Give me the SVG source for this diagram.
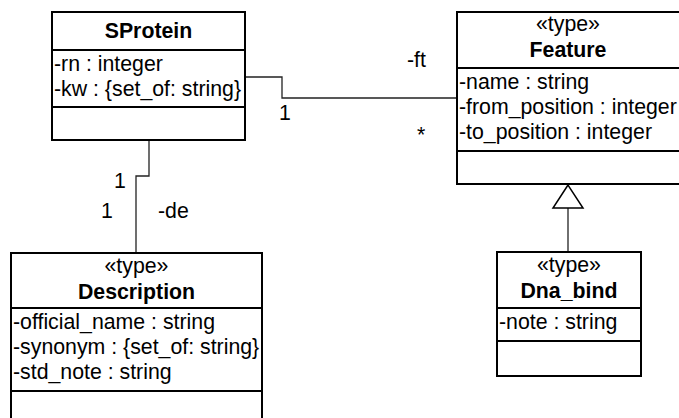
<svg xmlns="http://www.w3.org/2000/svg" width="679" height="418" viewBox="0 0 679 418">
<style>
.box{fill:#fff;stroke:#000;stroke-width:2}
.sep{stroke:#000;stroke-width:2}
.conn{fill:none;stroke:#222;stroke-width:1.3}
text{font-family:"Liberation Sans",Arial,sans-serif;font-size:21.3px;fill:#000}
.b{font-weight:bold}
.c{text-anchor:middle}
</style>
<rect width="679" height="418" fill="#fff"/>
<g id="connectors">
<path class="conn" d="M245,77 H282 V98 H457"/>
<path class="conn" d="M149,140 V176 H136 V253"/>
<path class="conn" d="M568,208 V252"/>
<polygon points="568,185 553,208 583,208" fill="#fff" stroke="#000" stroke-width="1.5"/>
<text x="279" y="120">1</text>
<text x="407" y="67">-ft</text>
<text x="417" y="142">*</text>
<text x="114" y="188">1</text>
<text x="101" y="218">1</text>
<text x="158" y="218">-de</text>
</g>
<g id="SProtein">
<rect class="box" x="52" y="12" width="193" height="128"/>
<line class="sep" x1="52" y1="50" x2="245" y2="50"/>
<line class="sep" x1="52" y1="107" x2="245" y2="107"/>
<text class="b c" x="148.5" y="38">SProtein</text>
<text x="54" y="71">-rn : integer</text>
<text x="54" y="96">-kw : {set_of: string}</text>
</g>
<g id="Feature">
<rect class="box" x="457" y="12" width="230" height="172"/>
<line class="sep" x1="457" y1="68" x2="687" y2="68"/>
<line class="sep" x1="457" y1="151" x2="687" y2="151"/>
<text class="c" x="568" y="31">«type»</text>
<text class="b c" x="568" y="57">Feature</text>
<text x="459" y="89">-name : string</text>
<text x="459" y="114">-from_position : integer</text>
<text x="459" y="139">-to_position : integer</text>
</g>
<g id="Description">
<rect class="box" x="11" y="253" width="251" height="180"/>
<line class="sep" x1="11" y1="308" x2="262" y2="308"/>
<line class="sep" x1="11" y1="391" x2="262" y2="391"/>
<text class="c" x="136.5" y="273">«type»</text>
<text class="b c" x="136.5" y="299">Description</text>
<text x="13" y="329">-official_name : string</text>
<text x="13" y="354">-synonym : {set_of: string}</text>
<text x="13" y="379">-std_note : string</text>
</g>
<g id="Dna_bind">
<rect class="box" x="497" y="252" width="144" height="124"/>
<line class="sep" x1="497" y1="308" x2="641" y2="308"/>
<line class="sep" x1="497" y1="341" x2="641" y2="341"/>
<text class="c" x="569" y="272">«type»</text>
<text class="b c" x="569" y="298">Dna_bind</text>
<text x="499" y="329">-note : string</text>
</g>
</svg>
